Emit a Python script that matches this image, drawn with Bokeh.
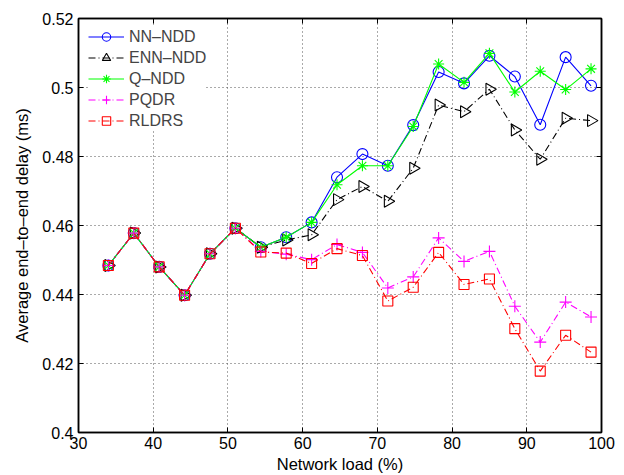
import math
from bokeh.plotting import figure
from bokeh.models import (ColumnDataSource, FixedTicker, LinearAxis, Range1d,
                          Legend, LegendItem, CustomJSTickFormatter)
from bokeh.embed import file_html
from bokeh.resources import INLINE

# ---------------- data ----------------
network_load = [34.0, 37.4, 40.8, 44.2, 47.6, 51.0, 54.4, 57.8, 61.2, 64.6,
                68.0, 71.4, 74.8, 78.2, 81.6, 85.0, 88.4, 91.8, 95.2, 98.6]

nn_ndd = [0.4484, 0.4578, 0.4480, 0.4398, 0.4518, 0.4592, 0.4537, 0.4566, 0.4609, 0.4740,
          0.4807, 0.4773, 0.4891, 0.5045, 0.5012, 0.5092, 0.5032, 0.4892, 0.5088, 0.5005]
enn_ndd = [0.4484, 0.4578, 0.4480, 0.4398, 0.4518, 0.4592, 0.4537, 0.4558, 0.4573, 0.4675,
           0.4713, 0.4670, 0.4766, 0.4949, 0.4930, 0.4995, 0.4877, 0.4792, 0.4911, 0.4904]
q_ndd = [0.4484, 0.4578, 0.4480, 0.4398, 0.4518, 0.4592, 0.4537, 0.4566, 0.4609, 0.4718,
         0.4773, 0.4773, 0.4887, 0.5068, 0.5015, 0.5099, 0.4987, 0.5047, 0.4994, 0.5054]
pqdr = [0.4484, 0.4578, 0.4480, 0.4398, 0.4518, 0.4592, 0.4525, 0.4517, 0.4501, 0.4545,
        0.4522, 0.4419, 0.4451, 0.4564, 0.4496, 0.4525, 0.4366, 0.4262, 0.4378, 0.4335]
rldrs = [0.4484, 0.4578, 0.4480, 0.4398, 0.4518, 0.4592, 0.4523, 0.4520, 0.4490, 0.4533,
         0.4513, 0.4381, 0.4421, 0.4522, 0.4429, 0.4445, 0.4301, 0.4178, 0.4282, 0.4233]

series_names = ["NN\u2013NDD", "ENN\u2013NDD", "Q\u2013NDD", "PQDR", "RLDRS"]

x_ticks = [30, 40, 50, 60, 70, 80, 90, 100]
x_tick_labels = ["30", "40", "50", "60", "70", "80", "90", "100"]
y_ticks = [0.4, 0.42, 0.44, 0.46, 0.48, 0.5, 0.52]
y_tick_labels = ["0.4", "0.42", "0.44", "0.46", "0.48", "0.5", "0.52"]

x_title = "Network load (%)"
y_title = "Average end\u2013to\u2013end delay (ms)"

# ---------------- figure ----------------
FONT = "Liberation Sans"

p = figure(width=624, height=475, output_backend="svg", toolbar_location=None,
           x_range=Range1d(x_ticks[0], x_ticks[-1]),
           y_range=Range1d(y_ticks[0], y_ticks[-1]))
p.min_border_left = 78
p.min_border_right = 23
p.min_border_top = 18
p.min_border_bottom = 42
p.background_fill_color = "white"
p.border_fill_color = "white"
p.outline_line_color = "black"
p.outline_line_width = 1.5

src = ColumnDataSource(dict(x=network_load, nn=nn_ndd, enn=enn_ndd, q=q_ndd,
                            pqdr=pqdr, rldrs=rldrs))

styles = [
    ("nn", "#0000ff", "solid", "circle", 11, 0.0),
    ("enn", "#000000", "7 3 1 3", "triangle", 12, -math.pi / 2),
    ("q", "#00ff00", "solid", "asterisk", 11, 0.0),
    ("pqdr", "#ff00ff", "7 3 1 3", "cross", 12, 0.0),
    ("rldrs", "#ff0000", "7 3 1 3", "square", 10, 0.0),
]

items = []
for name, (col, color, dash, marker, size, ang) in zip(series_names, styles):
    lr = p.line("x", col, source=src, line_color=color, line_width=1.1, line_dash=dash)
    mr = p.scatter("x", col, source=src, marker=marker, size=size, angle=ang,
                   line_color=color, fill_color=None, line_width=1.1)
    items.append(LegendItem(label=name, renderers=[lr, mr]))

# ---------------- axes ----------------
for ax in (p.xaxis[0], p.yaxis[0]):
    ax.major_tick_in = 5
    ax.major_tick_out = 0
    ax.minor_tick_line_color = None
    ax.axis_line_color = "black"
    ax.axis_line_width = 1.5
    ax.major_tick_line_color = "black"
    ax.major_label_text_font = FONT
    ax.major_label_text_font_size = "16px"
    ax.major_label_text_color = "black"
    ax.axis_label_text_font = FONT
    ax.axis_label_text_font_size = "16.5px"
    ax.axis_label_text_font_style = "normal"
    ax.axis_label_text_color = "black"

p.xaxis[0].ticker = FixedTicker(ticks=x_ticks)
p.xaxis[0].major_label_overrides = {t: l for t, l in zip(x_ticks, x_tick_labels)}
p.xaxis[0].axis_label = x_title
p.xaxis[0].major_label_standoff = 4
p.xaxis[0].axis_label_standoff = 3

p.yaxis[0].ticker = FixedTicker(ticks=y_ticks)
p.yaxis[0].major_label_overrides = {t: l for t, l in zip(y_ticks, y_tick_labels)}
p.yaxis[0].axis_label = y_title
p.yaxis[0].major_label_standoff = 5
p.yaxis[0].axis_label_standoff = 8

blank = CustomJSTickFormatter(code="return '';")
top_ax = LinearAxis(ticker=FixedTicker(ticks=x_ticks), formatter=blank,
                    major_tick_in=5, major_tick_out=0, minor_tick_line_color=None,
                    axis_line_width=1.5, major_label_standoff=0)
right_ax = LinearAxis(ticker=FixedTicker(ticks=y_ticks), formatter=blank,
                      major_tick_in=5, major_tick_out=0, minor_tick_line_color=None,
                      axis_line_width=1.5, major_label_standoff=0)
p.add_layout(top_ax, "above")
p.add_layout(right_ax, "right")

# grid
p.xgrid.ticker = FixedTicker(ticks=x_ticks[1:-1])
p.ygrid.ticker = FixedTicker(ticks=y_ticks[1:-1])
for g in (p.xgrid[0], p.ygrid[0]):
    g.grid_line_color = "#555555"
    g.grid_line_dash = "1 3"
    g.grid_line_width = 1

# ---------------- legend ----------------
legend = Legend(items=items, location=(10, 301))
legend.label_text_font = FONT
legend.label_text_font_size = "16px"
legend.glyph_width = 36
legend.glyph_height = 21
legend.label_height = 20
legend.label_standoff = 5
legend.spacing = 0
legend.padding = 4
legend.margin = 0
legend.border_line_color = None
legend.background_fill_color = "white"
legend.background_fill_alpha = 1.0
p.add_layout(legend)

open("out.html", "w").write(file_html(p, INLINE))
